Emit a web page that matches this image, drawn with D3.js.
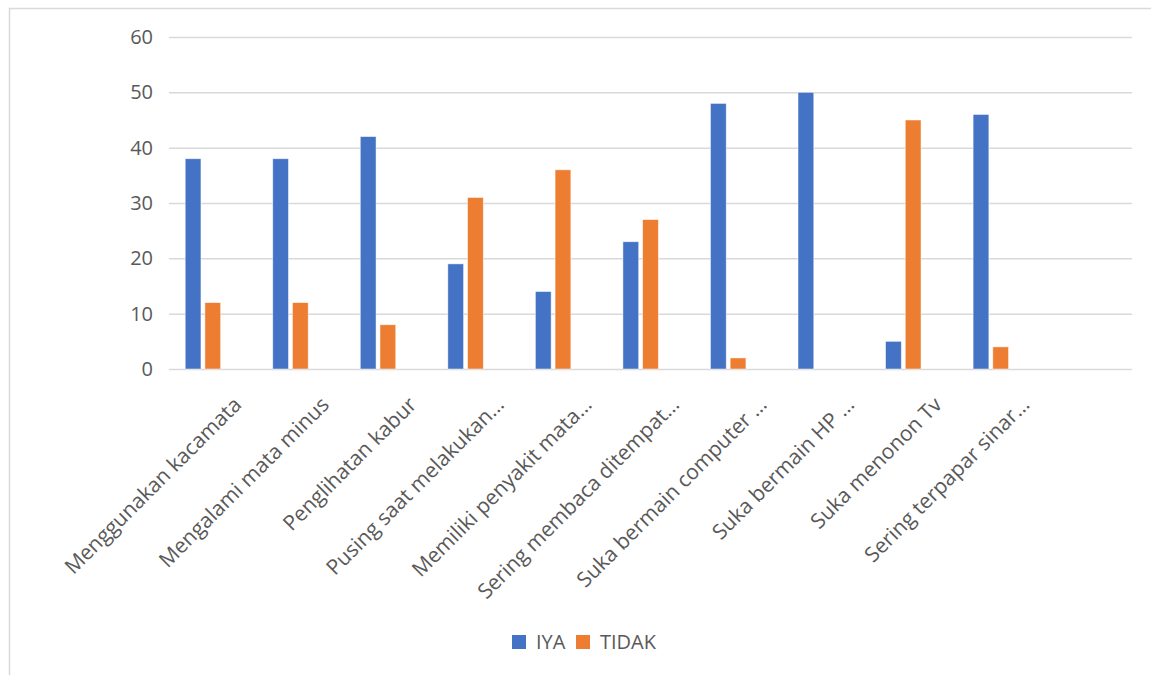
<!DOCTYPE html>
<meta charset="utf-8">
<script src="https://d3js.org/d3.v7.min.js"></script>
<style>
  body { margin: 0; background: #fff; }
  text { font-family: "Open Sans", sans-serif; fill: #595959; }
</style>
<div id="chart"></div>
<script>

// categories (the last slot is empty in the original chart)
var categories = [
  "Menggunakan kacamata",
  "Mengalami mata minus",
  "Penglihatan kabur",
  "Pusing saat melakukan…",
  "Memiliki penyakit mata…",
  "Sering membaca ditempat…",
  "Suka bermain computer …",
  "Suka bermain HP …",
  "Suka menonon Tv",
  "Sering terpapar sinar…",
  ""
];
var iya   = [38, 38, 42, 19, 14, 23, 48, 50, 5, 46, null];
var tidak = [12, 12, 8, 31, 36, 27, 2, 0, 45, 4, null];
var seriesNames = ["IYA", "TIDAK", " "];
var yTicks = [0, 10, 20, 30, 40, 50, 60];

var colors = { "IYA": "#4472C4", "TIDAK": "#ED7D31" };

var width = 1151, height = 675;
var plot = { left: 169, right: 1132, top: 37, bottom: 369 };

var svg = d3.select("#chart")
  .append("svg")
    .attr("width", width)
    .attr("height", height);

// outer frame
svg.append("rect")
  .attr("x", 9.5).attr("y", 8.5)
  .attr("width", 1160).attr("height", 700)
  .attr("fill", "none")
  .attr("stroke", "#d9d9d9")
  .attr("stroke-width", 1.5);

var x = d3.scaleBand()
  .domain(categories.map(function(d, i) { return i; }))
  .range([plot.left, plot.right])
  .paddingInner(0.37)
  .paddingOuter(0.185);

var x1 = d3.scaleBand()
  .domain(seriesNames)
  .range([0, x.bandwidth()])
  .paddingInner(0.2);

var y = d3.scaleLinear()
  .domain([0, 60])
  .range([plot.bottom, plot.top]);

// gridlines + y labels
var yAxis = svg.append("g")
  .attr("transform", "translate(" + plot.left + ",0)")
  .call(d3.axisLeft(y).tickValues(yTicks).tickSize(-(plot.right - plot.left)).tickPadding(16));
yAxis.select(".domain").remove();
yAxis.selectAll(".tick line").attr("stroke", "#d9d9d9").attr("stroke-width", 1.5);
yAxis.selectAll(".tick text").style("font-size", "20px").attr("fill", "#595959");

// bars
var rows = categories.map(function(c, i) {
  return [
    { key: "IYA", i: i, v: iya[i] },
    { key: "TIDAK", i: i, v: tidak[i] }
  ];
});

svg.append("g")
  .selectAll("g")
  .data(rows)
  .enter().append("g")
    .attr("transform", function(d, i) { return "translate(" + x(i) + ",0)"; })
  .selectAll("rect")
  .data(function(d) { return d.filter(function(e) { return e.v; }); })
  .enter().append("rect")
    .attr("x", function(d) { return x1(d.key); })
    .attr("y", function(d) { return y(d.v); })
    .attr("width", x1.bandwidth())
    .attr("height", function(d) { return y(0) - y(d.v); })
    .attr("fill", function(d) { return colors[d.key]; })
    .attr("stroke", "#ffffff")
    .attr("stroke-opacity", 0.6)
    .attr("stroke-width", 0.8);

// x labels
var xAxis = svg.append("g")
  .attr("transform", "translate(0," + plot.bottom + ")")
  .call(d3.axisBottom(x).tickSize(0).tickFormat(function(i) { return categories[i]; }));
xAxis.select(".domain").remove();
xAxis.selectAll(".tick text")
  .attr("y", 0).attr("dy", 0)
  .attr("transform", "translate(30,37) rotate(-45)")
  .style("text-anchor", "end")
  .style("font-size", "21px")
  .attr("fill", "#595959");

// legend
var legendItems = [
  { name: "IYA", x: 512 },
  { name: "TIDAK", x: 576 }
];
var legend = svg.append("g");
legendItems.forEach(function(d) {
  legend.append("rect")
    .attr("x", d.x).attr("y", 635)
    .attr("width", 14).attr("height", 14)
    .attr("fill", colors[d.name]);
  legend.append("text")
    .attr("x", d.x + 24).attr("y", 649)
    .style("font-size", "20px")
    .text(d.name);
});

</script>
